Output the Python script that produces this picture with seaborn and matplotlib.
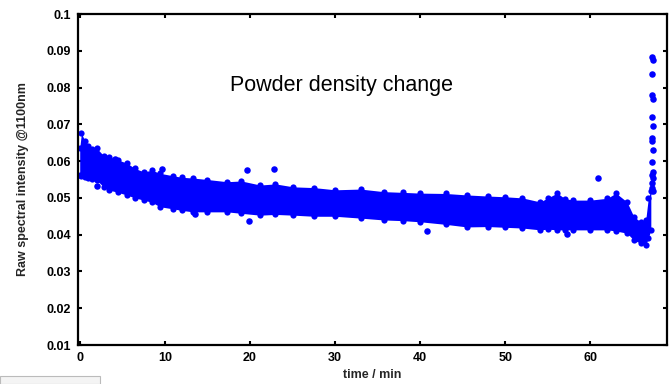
import matplotlib
matplotlib.use("Agg")
import matplotlib.pyplot as plt
import seaborn as sns
import pandas as pd
from matplotlib.patches import Rectangle

# ---- data ----
band_time = [0, 0.2, 0.6, 1, 1.5, 2, 2.8, 3.5, 4.5, 5.5, 6.5, 7.5, 8.5, 9.4, 11, 12,
             13.3, 15, 17.3, 19, 21.2, 23, 25.1, 27.5, 30, 33, 35.7, 38, 40, 43,
             45.5, 48, 50, 52, 54.1, 55, 56.1, 57, 58, 60, 62, 63, 64.3, 65.1,
             65.9, 66.5, 66.8, 67.1]
band_upper = [0.0635, 0.0676, 0.0655, 0.0640, 0.0632, 0.0635, 0.0615, 0.0612, 0.0603,
              0.0595, 0.0580, 0.0571, 0.0575, 0.0567, 0.0560, 0.0556, 0.0554, 0.0550,
              0.0544, 0.0546, 0.0535, 0.0538, 0.0530, 0.0528, 0.0522, 0.0524, 0.0517,
              0.0515, 0.0513, 0.0512, 0.0508, 0.0505, 0.0503, 0.0500, 0.0489, 0.0500,
              0.0513, 0.0498, 0.0494, 0.0494, 0.0499, 0.0513, 0.0489, 0.0449, 0.0435,
              0.0440, 0.0499, 0.0520]
band_lower = [0.0562, 0.0560, 0.0558, 0.0555, 0.0552, 0.0548, 0.0530, 0.0521, 0.0515,
              0.0508, 0.0500, 0.0494, 0.0488, 0.0476, 0.0470, 0.0466, 0.0462, 0.0462,
              0.0462, 0.0458, 0.0453, 0.0455, 0.0453, 0.0450, 0.0450, 0.0445, 0.0440,
              0.0438, 0.0435, 0.0428, 0.0421, 0.0422, 0.0420, 0.0418, 0.0413, 0.0415,
              0.0413, 0.0413, 0.0413, 0.0413, 0.0413, 0.0410, 0.0404, 0.0385, 0.0377,
              0.0372, 0.0390, 0.0413]

outlier_time = [2.0, 4.1, 9.7, 13.5, 19.7, 19.9, 22.8, 40.8, 57.3, 60.9]
outlier_value = [0.0532, 0.0607, 0.0578, 0.0456, 0.0576, 0.0438, 0.0578, 0.0410, 0.0403, 0.0553]

spike_time = [67.2, 67.3, 67.25, 67.2, 67.3, 67.2, 67.35, 67.2, 67.25, 67.35, 67.2,
              67.35, 67.2, 67.3, 67.25, 67.2, 67.3]
spike_value = [0.0883, 0.0874, 0.0838, 0.0779, 0.0770, 0.0719, 0.0696, 0.0664, 0.0656,
               0.0630, 0.0598, 0.0571, 0.0562, 0.0553, 0.0540, 0.0528, 0.0518]

x_ticks = [0, 10, 20, 30, 40, 50, 60]
y_ticks = [0.01, 0.02, 0.03, 0.04, 0.05, 0.06, 0.07, 0.08, 0.09, 0.1]
y_tick_labels = ["0.01", "0.02", "0.03", "0.04", "0.05", "0.06", "0.07", "0.08", "0.09", "0.1"]

sns.set_style("ticks")
plt.rcParams["font.family"] = ["Liberation Sans", "DejaVu Sans"]

fig = plt.figure(figsize=(6.72, 3.84), dpi=100)
ax = fig.add_axes([78 / 672, 1 - 345 / 384, 589 / 672, 331 / 384])

blue = "#0000FF"
ax.fill_between(band_time, band_lower, band_upper, color=blue, linewidth=0)

edges = pd.DataFrame({"t": band_time + band_time, "v": band_upper + band_lower})
sns.scatterplot(data=edges, x="t", y="v", ax=ax, color=blue, s=20, linewidth=0,
                marker="o", legend=False)

outl = pd.DataFrame({"t": outlier_time + spike_time, "v": outlier_value + spike_value})
sns.scatterplot(data=outl, x="t", y="v", ax=ax, color=blue, s=22, linewidth=0,
                marker="o", legend=False)

ax.set_xlim(-0.2, 69)
ax.set_ylim(0.01, 0.1)
ax.set_xticks(x_ticks)
ax.set_xticklabels([str(v) for v in x_ticks])
ax.set_yticks(y_ticks)
ax.set_yticklabels(y_tick_labels)

for s in ax.spines.values():
    s.set_visible(True)
    s.set_linewidth(1.6)
    s.set_color("black")

ax.tick_params(direction="in", length=3, width=1.5, top=True, right=True,
               labelsize=9, pad=5, colors="black")
for lab in ax.get_xticklabels() + ax.get_yticklabels():
    lab.set_fontweight("bold")

ax.set_xlabel("time / min", fontsize=9, fontweight="bold")
ax.set_ylabel("Raw spectral intensity @1100nm", fontsize=9, fontweight="bold")
ax.xaxis.set_label_coords(0.5, -0.074)
ax.yaxis.set_label_coords(-0.083, 0.5)

ax.text(17.6, 0.0805, "Powder density change", fontsize=15.5, color="black",
        va="center", ha="left")

fig.add_artist(Rectangle((0, 0), 100 / 672, 8 / 384, transform=fig.transFigure,
                         facecolor="#f4f4f4", edgecolor="#bbbbbb", linewidth=0.8))

fig.savefig("out.png", dpi=100)
